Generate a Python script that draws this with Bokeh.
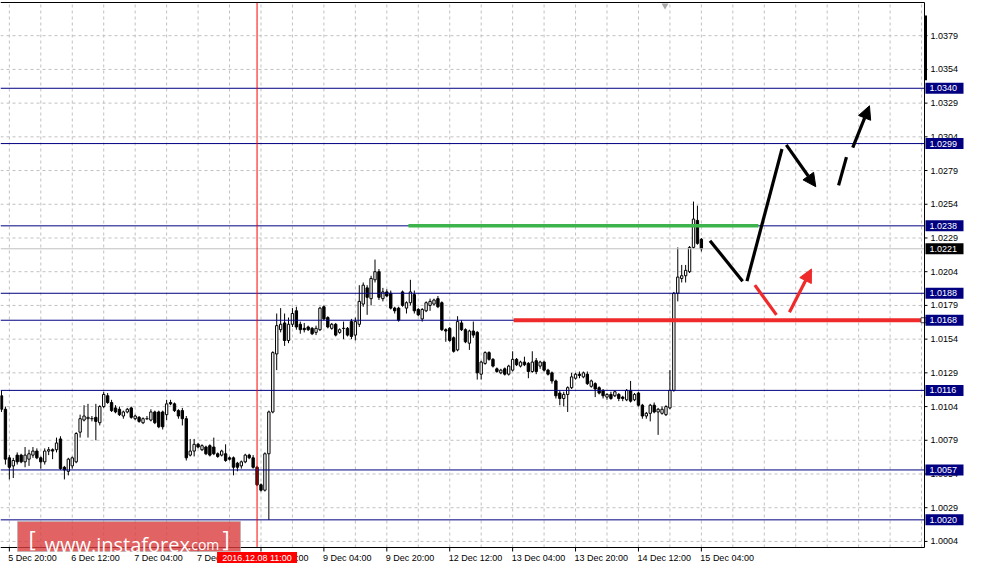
from bokeh.plotting import figure
from bokeh.models import Range1d, ColumnDataSource, Arrow, NormalHead
from bokeh.core.properties import value
from bokeh.embed import file_html
from bokeh.resources import INLINE

# ---------------- data (H1 bars; bar 0 = "5 Dec 20:00") ----------------
FIRST_BAR = -2
opens = [
    1.0112, 1.0102,
    1.0066, 1.0060, 1.0068, 1.0068, 1.0063, 1.0065, 1.0068, 1.0071, 1.0066, 1.0063,
    1.0071, 1.0072, 1.0072, 1.0080, 1.0059, 1.0056, 1.0060, 1.0063, 1.0085, 1.0094,
    1.0095, 1.0095, 1.0096, 1.0092, 1.0104, 1.0112, 1.0107, 1.0103, 1.0102, 1.0097,
    1.0100, 1.0103, 1.0095, 1.0096, 1.0092, 1.0095, 1.0094, 1.0100, 1.0100, 1.0100,
    1.0098, 1.0107, 1.0106, 1.0101, 1.0101, 1.0095, 1.0068, 1.0071, 1.0076, 1.0072,
    1.0074, 1.0075, 1.0074, 1.0069, 1.0068, 1.0069, 1.0066, 1.0066, 1.0062, 1.0060,
    1.0063, 1.0068, 1.0066, 1.0059, 1.0046, 1.0042, 1.0069, 1.0100, 1.0143, 1.0161,
    1.0166, 1.0153, 1.0165, 1.0175, 1.0165, 1.0162, 1.0163, 1.0162, 1.0159, 1.0161,
    1.0178, 1.0170, 1.0162, 1.0165, 1.0159, 1.0162, 1.0162, 1.0167, 1.0157, 1.0165,
    1.0180, 1.0192, 1.0184, 1.0198, 1.0204, 1.0184, 1.0189, 1.0188, 1.0177, 1.0177,
    1.0189, 1.0177, 1.0181, 1.0187, 1.0176, 1.0169, 1.0175, 1.0179, 1.0180, 1.0184,
    1.0181, 1.0161, 1.0162, 1.0155, 1.0146, 1.0166, 1.0161, 1.0151, 1.0160, 1.0159,
    1.0128, 1.0136, 1.0144, 1.0139, 1.0132, 1.0129, 1.0132, 1.0128, 1.0131, 1.0139,
    1.0134, 1.0137, 1.0136, 1.0130, 1.0138, 1.0134, 1.0137, 1.0131, 1.0129, 1.0123,
    1.0114, 1.0110, 1.0113, 1.0118, 1.0125, 1.0128, 1.0126, 1.0128, 1.0119, 1.0121,
    1.0118, 1.0116, 1.0111, 1.0113, 1.0112, 1.0113, 1.0111, 1.0109, 1.0116, 1.0109,
    1.0114, 1.0105, 1.0097, 1.0099, 1.0105, 1.0100, 1.0099, 1.0098, 1.0103, 1.0116,
    1.0188, 1.0199, 1.0201, 1.0204, 1.0222, 1.0242, 1.0228,
]
highs = [
    1.0116, 1.0104,
    1.0068, 1.0066, 1.0070, 1.0069, 1.0074, 1.0072, 1.0074, 1.0073, 1.0067, 1.0073,
    1.0074, 1.0073, 1.0081, 1.0082, 1.0060, 1.0066, 1.0067, 1.0085, 1.0098, 1.0105,
    1.0106, 1.0097, 1.0106, 1.0105, 1.0115, 1.0114, 1.0109, 1.0105, 1.0104, 1.0101,
    1.0103, 1.0104, 1.0098, 1.0097, 1.0096, 1.0097, 1.0102, 1.0101, 1.0101, 1.0101,
    1.0109, 1.0109, 1.0107, 1.0102, 1.0103, 1.0097, 1.0080, 1.0080, 1.0077, 1.0076,
    1.0075, 1.0076, 1.0081, 1.0070, 1.0072, 1.0076, 1.0067, 1.0067, 1.0063, 1.0064,
    1.0069, 1.0069, 1.0068, 1.0060, 1.0047, 1.0070, 1.0101, 1.0145, 1.0173, 1.0177,
    1.0173, 1.0170, 1.0177, 1.0178, 1.0167, 1.0166, 1.0164, 1.0163, 1.0164, 1.0178,
    1.0179, 1.0171, 1.0166, 1.0166, 1.0162, 1.0167, 1.0163, 1.0169, 1.0170, 1.0194,
    1.0196, 1.0194, 1.0201, 1.0213, 1.0206, 1.0192, 1.0191, 1.0190, 1.0178, 1.0178,
    1.0190, 1.0182, 1.0198, 1.0190, 1.0177, 1.0177, 1.0182, 1.0184, 1.0184, 1.0186,
    1.0182, 1.0162, 1.0163, 1.0156, 1.0171, 1.0168, 1.0162, 1.0161, 1.0167, 1.0160,
    1.0138, 1.0145, 1.0145, 1.0140, 1.0133, 1.0132, 1.0133, 1.0135, 1.0145, 1.0140,
    1.0138, 1.0141, 1.0137, 1.0145, 1.0140, 1.0138, 1.0138, 1.0132, 1.0130, 1.0124,
    1.0116, 1.0115, 1.0119, 1.0129, 1.0129, 1.0130, 1.0130, 1.0130, 1.0124, 1.0122,
    1.0119, 1.0117, 1.0114, 1.0115, 1.0116, 1.0114, 1.0112, 1.0117, 1.0123, 1.0114,
    1.0115, 1.0106, 1.0100, 1.0106, 1.0107, 1.0103, 1.0104, 1.0105, 1.0131, 1.0189,
    1.0222, 1.0209, 1.0209, 1.0223, 1.0256, 1.0253, 1.0229,
]
lows = [
    1.0100, 1.0061,
    1.0050, 1.0051, 1.0061, 1.0062, 1.0059, 1.0060, 1.0066, 1.0065, 1.0058, 1.0061,
    1.0068, 1.0065, 1.0070, 1.0057, 1.0050, 1.0053, 1.0058, 1.0062, 1.0081, 1.0093,
    1.0081, 1.0093, 1.0079, 1.0090, 1.0103, 1.0106, 1.0100, 1.0099, 1.0097, 1.0095,
    1.0099, 1.0095, 1.0094, 1.0092, 1.0091, 1.0094, 1.0093, 1.0091, 1.0088, 1.0087,
    1.0094, 1.0105, 1.0100, 1.0095, 1.0090, 1.0064, 1.0067, 1.0067, 1.0073, 1.0071,
    1.0068, 1.0067, 1.0068, 1.0066, 1.0067, 1.0063, 1.0064, 1.0053, 1.0056, 1.0058,
    1.0062, 1.0065, 1.0058, 1.0045, 1.0041, 1.0041, 1.0020, 1.0099, 1.0131, 1.0159,
    1.0149, 1.0151, 1.0163, 1.0161, 1.0158, 1.0159, 1.0160, 1.0157, 1.0157, 1.0160,
    1.0168, 1.0162, 1.0161, 1.0156, 1.0158, 1.0154, 1.0156, 1.0154, 1.0153, 1.0163,
    1.0178, 1.0172, 1.0179, 1.0196, 1.0183, 1.0182, 1.0185, 1.0176, 1.0173, 1.0167,
    1.0178, 1.0173, 1.0179, 1.0173, 1.0171, 1.0167, 1.0174, 1.0175, 1.0179, 1.0177,
    1.0160, 1.0152, 1.0152, 1.0144, 1.0145, 1.0160, 1.0151, 1.0146, 1.0155, 1.0124,
    1.0124, 1.0135, 1.0138, 1.0133, 1.0129, 1.0128, 1.0127, 1.0127, 1.0130, 1.0134,
    1.0133, 1.0134, 1.0125, 1.0129, 1.0128, 1.0132, 1.0130, 1.0127, 1.0121, 1.0110,
    1.0105, 1.0104, 1.0100, 1.0117, 1.0124, 1.0125, 1.0125, 1.0120, 1.0118, 1.0111,
    1.0113, 1.0110, 1.0109, 1.0109, 1.0111, 1.0108, 1.0108, 1.0108, 1.0107, 1.0108,
    1.0104, 1.0095, 1.0095, 1.0093, 1.0099, 1.0083, 1.0098, 1.0097, 1.0102, 1.0115,
    1.0182, 1.0196, 1.0196, 1.0203, 1.0221, 1.0224, 1.0219,
]
closes = [
    1.0102, 1.0065,
    1.0059, 1.0064, 1.0063, 1.0063, 1.0068, 1.0069, 1.0071, 1.0066, 1.0063, 1.0071,
    1.0072, 1.0071, 1.0077, 1.0058, 1.0057, 1.0065, 1.0066, 1.0084, 1.0095, 1.0097,
    1.0096, 1.0095, 1.0093, 1.0104, 1.0113, 1.0107, 1.0101, 1.0100, 1.0098, 1.0100,
    1.0102, 1.0096, 1.0097, 1.0093, 1.0095, 1.0095, 1.0100, 1.0092, 1.0089, 1.0089,
    1.0106, 1.0106, 1.0101, 1.0097, 1.0095, 1.0066, 1.0071, 1.0076, 1.0074, 1.0075,
    1.0069, 1.0068, 1.0069, 1.0067, 1.0071, 1.0064, 1.0065, 1.0059, 1.0059, 1.0063,
    1.0068, 1.0066, 1.0059, 1.0046, 1.0042, 1.0069, 1.0100, 1.0144, 1.0164, 1.0165,
    1.0153, 1.0165, 1.0173, 1.0163, 1.0161, 1.0161, 1.0161, 1.0158, 1.0162, 1.0177,
    1.0169, 1.0163, 1.0165, 1.0157, 1.0161, 1.0162, 1.0157, 1.0156, 1.0167, 1.0182,
    1.0194, 1.0185, 1.0199, 1.0204, 1.0185, 1.0189, 1.0186, 1.0177, 1.0175, 1.0168,
    1.0179, 1.0181, 1.0189, 1.0175, 1.0172, 1.0176, 1.0181, 1.0182, 1.0183, 1.0178,
    1.0161, 1.0160, 1.0153, 1.0145, 1.0167, 1.0161, 1.0152, 1.0160, 1.0157, 1.0129,
    1.0137, 1.0144, 1.0139, 1.0134, 1.0130, 1.0131, 1.0128, 1.0134, 1.0139, 1.0135,
    1.0137, 1.0135, 1.0130, 1.0137, 1.0130, 1.0137, 1.0131, 1.0128, 1.0123, 1.0112,
    1.0110, 1.0113, 1.0118, 1.0126, 1.0128, 1.0127, 1.0129, 1.0121, 1.0123, 1.0117,
    1.0114, 1.0112, 1.0113, 1.0110, 1.0115, 1.0110, 1.0110, 1.0116, 1.0108, 1.0113,
    1.0105, 1.0097, 1.0099, 1.0105, 1.0100, 1.0102, 1.0102, 1.0104, 1.0116, 1.0188,
    1.0200, 1.0201, 1.0205, 1.0222, 1.0243, 1.0225, 1.0221,
]

time_tick_bars = [0, 16, 32, 48, 64, 80, 96, 112, 128, 144, 160, 176]
time_tick_labels = ["5 Dec 20:00", "6 Dec 12:00", "7 Dec 04:00", "7 Dec 20:00",
                    "8 Dec 12:00", "9 Dec 04:00", "9 Dec 20:00", "12 Dec 12:00",
                    "13 Dec 04:00", "13 Dec 20:00", "14 Dec 12:00", "15 Dec 04:00"]
grid_bar_step = 8

price_ticks = [1.0004, 1.0029, 1.0054, 1.0079, 1.0104, 1.0129, 1.0154, 1.0179,
               1.0204, 1.0229, 1.0254, 1.0279, 1.0304, 1.0329, 1.0354, 1.0379]
price_tick_labels = ["1.0004", "1.0029", "1.0054", "1.0079", "1.0104", "1.0129",
                     "1.0154", "1.0179", "1.0204", "1.0229", "1.0254", "1.0279",
                     "1.0304", "1.0329", "1.0354", "1.0379"]

level_prices = [1.0340, 1.0299, 1.0238, 1.0188, 1.0168, 1.0116, 1.0057, 1.0020]
level_labels = ["1.0340", "1.0299", "1.0238", "1.0188", "1.0168", "1.0116", "1.0057", "1.0020"]
bid_price = 1.0221
bid_label = "1.0221"
scale_bar_prices = [1.0346, 1.0394]
chart_shift_bar = 166.75

green_level = 1.0238
green_bars = [101.5, 190.5]
red_level = 1.0168
red_bars = [128.25, 232.5]

vline_bar = 63
vline_label = "2016.12.08 11:00"

# forecast drawing (bar index, price)
black_seg_x0 = [178.2, 187.6, 210.9]
black_seg_y0 = [1.0227, 1.0197, 1.0268]
black_seg_x1 = [186.5, 196.5, 212.9]
black_seg_y1 = [1.0197, 1.0295, 1.0289]
black_arrow_x0 = [197.6, 214.5]
black_arrow_y0 = [1.0298, 1.0296]
black_arrow_x1 = [205.1, 218.75]
black_arrow_y1 = [1.0267, 1.0327]
red_seg_x0 = [189.6]
red_seg_y0 = [1.0194]
red_seg_x1 = [195.1]
red_seg_y1 = [1.0172]
red_arrow_x0 = [198.4]
red_arrow_y0 = [1.0174]
red_arrow_x1 = [204.0]
red_arrow_y1 = [1.0206]

watermark_main = "www.instaforex"
watermark_tail = ".com"

# ---------------- layout geometry ----------------
W, H = 965, 570
CW, CH = 924, 545            # price-chart area in pixels
TOP_PX, BOTTOM_PX = 2, 23
CX0, CX1 = -2.25, 232.75     # visible bar span of the chart area
CY0, CY1 = 0.99995, 1.04036  # visible price span of the chart area
PXX = CW / (CX1 - CX0)
PXY = CH / (CY1 - CY0)

def dx(px):
    return px / PXX

def dy(px):
    return px / PXY

FONT = "Liberation Sans"
NAVY = "#000080"
RED = "#ee2a2a"

p = figure(width=W, height=H, output_backend="svg", toolbar_location=None,
           x_range=Range1d(CX0, CX0 + W / PXX),
           y_range=Range1d(CY0 - dy(BOTTOM_PX), CY1 + dy(TOP_PX)),
           x_axis_location=None, y_axis_location=None,
           min_border=0, min_border_left=0, min_border_right=0,
           min_border_top=0, min_border_bottom=0,
           background_fill_color="white", border_fill_color="white")
p.outline_line_color = None
p.grid.visible = False

# ---------------- grid ----------------
grid_bars = list(range(0, int(CX1) + 1, grid_bar_step))
p.segment(x0=grid_bars, y0=[CY0] * len(grid_bars), x1=grid_bars, y1=[CY1] * len(grid_bars),
          line_color="#c0c0c0", line_dash="3 3", line_width=1)
p.segment(x0=[CX0] * len(price_ticks), y0=price_ticks, x1=[CX1] * len(price_ticks), y1=price_ticks,
          line_color="#c0c0c0", line_dash="3 3", line_width=1)

# ---------------- candles ----------------
bars = list(range(FIRST_BAR, FIRST_BAR + len(opens)))
up = [c > o for o, c in zip(opens, closes)]
down = [c < o for o, c in zip(opens, closes)]
flat = [c == o for o, c in zip(opens, closes)]

def pick(seq, mask):
    return [s for s, m in zip(seq, mask) if m]

p.segment(x0=bars, y0=highs, x1=bars, y1=lows, line_color="black", line_width=1)
up_src = ColumnDataSource(dict(x=pick(bars, up), top=pick(closes, up), bottom=pick(opens, up)))
dn_src = ColumnDataSource(dict(x=pick(bars, down), top=pick(opens, down), bottom=pick(closes, down)))
p.vbar(x="x", top="top", bottom="bottom", width=0.6, source=up_src,
       fill_color="white", line_color="black", line_width=1)
p.vbar(x="x", top="top", bottom="bottom", width=0.6, source=dn_src,
       fill_color="black", line_color="black", line_width=1)
fx = pick(bars, flat)
fy = pick(opens, flat)
p.segment(x0=[b - 0.4 for b in fx], y0=fy, x1=[b + 0.4 for b in fx], y1=fy,
          line_color="black", line_width=1)

# ---------------- horizontal levels, bid line, time marker ----------------
n = len(level_prices)
p.segment(x0=[CX0] * n, y0=level_prices, x1=[CX1] * n, y1=level_prices,
          line_color=NAVY, line_width=1)
p.segment(x0=[CX0], y0=[bid_price], x1=[CX1], y1=[bid_price], line_color="#c0c0c0", line_width=1)
p.segment(x0=[vline_bar], y0=[CY0], x1=[vline_bar], y1=[CY1], line_color="#ff0000", line_width=1)

# green / red support-resistance segments
p.line(x=green_bars, y=[green_level, green_level], line_color="#3cb44b", line_width=3.5)
p.line(x=red_bars, y=[red_level, red_level], line_color=RED, line_width=4)
p.scatter(x=[red_bars[1]], y=[red_level], marker="square", size=5,
          fill_color="white", line_color="#404040")

# ---------------- forecast lines ----------------
p.segment(x0=black_seg_x0, y0=black_seg_y0, x1=black_seg_x1, y1=black_seg_y1,
          line_color="black", line_width=3.2)
p.segment(x0=red_seg_x0, y0=red_seg_y0, x1=red_seg_x1, y1=red_seg_y1,
          line_color=RED, line_width=3.2)
for xs, ys, xe, ye in zip(black_arrow_x0, black_arrow_y0, black_arrow_x1, black_arrow_y1):
    p.add_layout(Arrow(end=NormalHead(size=13, fill_color="black", line_color="black"),
                       x_start=xs, y_start=ys, x_end=xe, y_end=ye,
                       line_color="black", line_width=3.2))
for xs, ys, xe, ye in zip(red_arrow_x0, red_arrow_y0, red_arrow_x1, red_arrow_y1):
    p.add_layout(Arrow(end=NormalHead(size=13, fill_color=RED, line_color=RED),
                       x_start=xs, y_start=ys, x_end=xe, y_end=ye,
                       line_color=RED, line_width=3.2))

# ---------------- chart border and price scale ----------------
p.segment(x0=[CX0, CX1, CX0], y0=[CY1, CY0, CY0], x1=[CX1, CX1, CX1], y1=[CY1, CY1, CY0],
          line_color="black", line_width=1)
p.scatter(x=[chart_shift_bar], y=[CY1 - dy(3)], marker="inverted_triangle", size=7,
          fill_color="#a8a8a8", line_color=None)
m = len(price_ticks)
p.segment(x0=[CX1] * m, y0=price_ticks, x1=[CX1 + dx(3)] * m, y1=price_ticks,
          line_color="black", line_width=1)
p.text(x=[CX1 + dx(6)] * m, y=price_ticks, text=price_tick_labels,
       text_font=value(FONT), text_font_size="9px", text_color="black",
       text_align="left", text_baseline="middle")
p.segment(x0=[CX1 + dx(1)], y0=[scale_bar_prices[0]], x1=[CX1 + dx(1)], y1=[scale_bar_prices[1]],
          line_color="black", line_width=3)

# value boxes on the price scale
p.rect(x=[CX1 + dx(20)] * n, y=level_prices, width=38, height=11,
       width_units="screen", height_units="screen", fill_color=NAVY, line_color=None)
p.text(x=[CX1 + dx(5)] * n, y=level_prices, text=level_labels,
       text_font=value(FONT), text_font_size="9px", text_color="white",
       text_align="left", text_baseline="middle")
p.rect(x=[CX1 + dx(20)], y=[bid_price], width=38, height=11,
       width_units="screen", height_units="screen", fill_color="black", line_color=None)
p.text(x=[CX1 + dx(5)], y=[bid_price], text=[bid_label],
       text_font=value(FONT), text_font_size="9px", text_color="white",
       text_align="left", text_baseline="middle")

# ---------------- time scale ----------------
k = len(time_tick_bars)
p.segment(x0=time_tick_bars, y0=[CY0] * k, x1=time_tick_bars, y1=[CY0 - dy(4)] * k,
          line_color="black", line_width=1)
p.text(x=time_tick_bars, y=[CY0 - dy(10)] * k, text=time_tick_labels, x_offset=-1,
       text_font=value(FONT), text_font_size="9px", text_color="black",
       text_align="left", text_baseline="middle")
p.rect(x=[vline_bar], y=[CY0 - dy(10)], width=80, height=11,
       width_units="screen", height_units="screen", fill_color="#ff0000", line_color=None)
p.text(x=[vline_bar], y=[CY0 - dy(10)], text=[vline_label],
       text_font=value(FONT), text_font_size="9px", text_color="white",
       text_align="center", text_baseline="middle")

# ---------------- watermark ----------------
p.quad(left=[CX0 + dx(17)], right=[CX0 + dx(240)], top=[CY0 + dy(26)], bottom=[CY0 - dy(4)],
       fill_color="#d93c3c", fill_alpha=0.8, line_color="#b0b0b0", line_alpha=0.6)
p.text(x=[CX0 + dx(28)], y=[CY0 + dy(10)], text=["["], text_font=value("Open Sans"),
       text_font_size="22px", text_color="white", text_baseline="middle")
p.text(x=[CX0 + dx(44)], y=[CY0 + dy(3)], text=[watermark_main], text_font=value("Open Sans"),
       text_font_size="20px", text_color="white", text_baseline="alphabetic")
p.text(x=[CX0 + dx(187)], y=[CY0 + dy(3)], text=[watermark_tail], text_font=value("Open Sans"),
       text_font_size="14px", text_color="white", text_baseline="alphabetic")
p.text(x=[CX0 + dx(222)], y=[CY0 + dy(10)], text=["]"], text_font=value("Open Sans"),
       text_font_size="22px", text_color="white", text_baseline="middle")

open("out.html", "w").write(file_html(p, INLINE))
